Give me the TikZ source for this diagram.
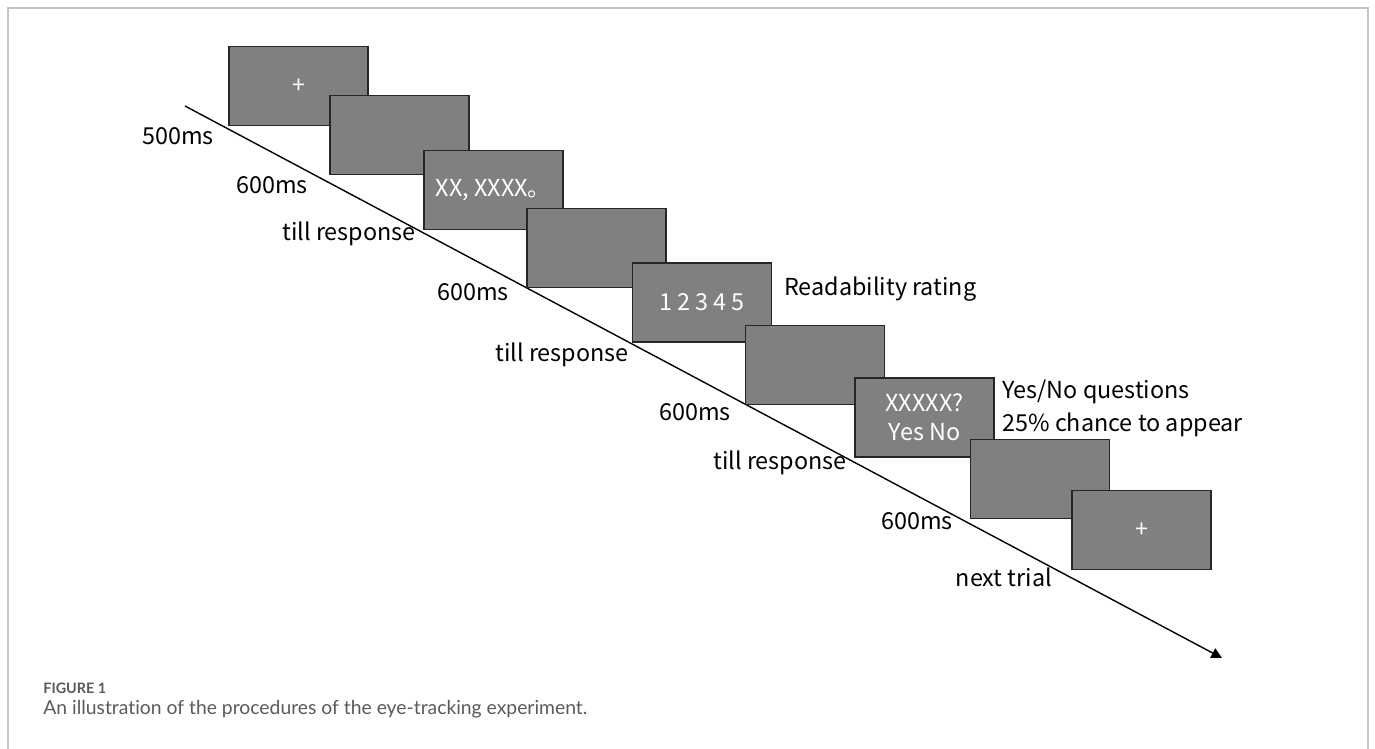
\documentclass[tikz,border=0pt]{standalone}
\usepackage{fontspec}
\setmainfont{Noto Sans CJK SC}
\newfontfamily\capfont[Ligatures={NoCommon,NoRare,NoContextual}]{Lato}
\usetikzlibrary{arrows.meta}
\definecolor{screengray}{HTML}{808080}
\definecolor{framegray}{HTML}{C4C4C4}
\definecolor{captiongray}{HTML}{5A5A5A}
\begin{document}
\begin{tikzpicture}[x=0.02cm, y=-0.02cm, font=\fontsize{13.3}{18.7}\selectfont]
    \tikzstyle{screen}=[draw=black!85, fill=screengray, line width=1.1pt, minimum width=2.78cm, minimum height=1.58cm, inner sep=0pt, text=white, align=center, font=\fontsize{13.3}{16.5}\selectfont]
    \tikzstyle{timelabel}=[inner sep=0pt, anchor=center]
    \tikzstyle{note}=[inner sep=0pt, anchor=west, align=left]

    \useasboundingbox (0,0) rectangle (1375,749);
    \draw[framegray, line width=0.8pt] (8,749) -- (8,8) -- (1368,8) -- (1368,749);

    % time line
    \coordinate (tstart) at (185,106);
    \coordinate (tend) at (1222,658);
    \draw[line width=0.8pt, -{Triangle[width=6pt, length=6pt]}] (tstart) -- (tend);

    % screens
    \node[screen] (s1) at (298.5,86) {+};
    \node[screen] (s2) at (399.5,135) {};
    \node[screen] (s3) at (493.5,190) {XX, XXXX。};
    \node[screen] (s4) at (596.5,248) {};
    \node[screen] (s5) at (702,302.5) {1 2 3 4 5};
    \node[screen] (s6) at (815,365) {};
    \node[screen] (s7) at (924.5,417.5) {XXXXX?\\Yes No};
    \node[screen] (s8) at (1040,479) {};
    \node[screen] (s9) at (1141.5,530) {+};

    % durations
    \node[timelabel] (d1) at (178,136) {500ms};
    \node[timelabel] (d2) at (272,185) {600ms};
    \node[timelabel] (d3) at (349,234) {till response};
    \node[timelabel] (d4) at (473,292) {600ms};
    \node[timelabel] (d5) at (562,355) {till response};
    \node[timelabel] (d6) at (695,412) {600ms};
    \node[timelabel] (d7) at (780,463) {till response};
    \node[timelabel] (d8) at (917,521) {600ms};
    \node[timelabel] (d9) at (1004,577) {next trial};

    % notes
    \node[note] (rating) at (784,289) {Readability rating};
    \node[note] (question) at (1002,408) {Yes/No questions\\25\% chance to appear};

    % caption
    \node[inner sep=0pt, anchor=base west, text=captiongray, font=\capfont\bfseries\fontsize{8.2}{9}\selectfont] (figno) at (43,693) {FIGURE 1};
    \node[inner sep=0pt, anchor=base west, text=captiongray, font=\capfont\fontsize{11}{13}\selectfont] (caption) at (43,714) {An illustration of the procedures of the eye-tracking experiment.};
\end{tikzpicture}
\end{document}
